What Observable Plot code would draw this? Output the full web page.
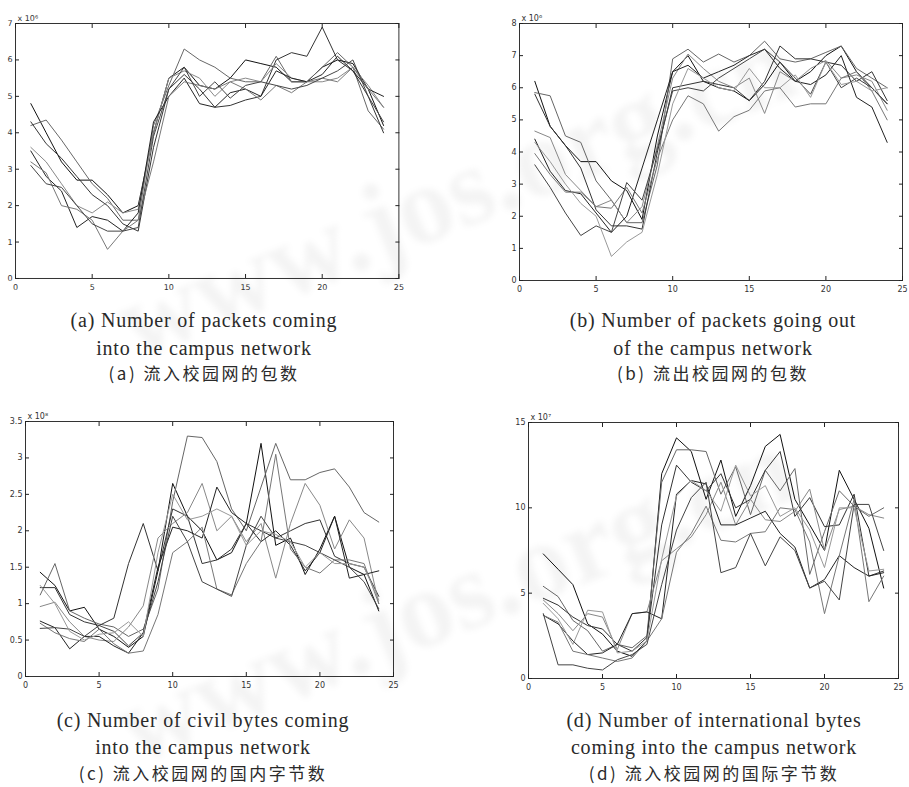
<!DOCTYPE html>
<html><head><meta charset="utf-8">
<script src="https://cdn.jsdelivr.net/npm/d3@7"></script>
<script src="https://cdn.jsdelivr.net/npm/@observablehq/plot@0.6"></script>
<style>
body{margin:0;background:#fff;}
#root{position:relative;width:909px;height:787px;overflow:hidden;background:#fff;}
.panel{position:absolute;}
.cap{position:absolute;font-family:"Liberation Serif","DejaVu Serif",serif;font-size:20px;letter-spacing:0.8px;color:#2a2a2a;white-space:nowrap;transform:translateX(-50%);line-height:1;}
.zh{font-family:"Noto Sans CJK SC",sans-serif;font-size:17px;letter-spacing:2.5px;}
.wm{position:absolute;font-family:"Liberation Serif",serif;font-weight:bold;font-size:110px;line-height:1;color:rgba(0,0,0,0.045);white-space:nowrap;filter:blur(3px);transform-origin:center;pointer-events:none;}
</style>
</head><body>
<div id="root"></div>
<script>
const hours = d3.range(1, 25);
const xTicks = [0, 5, 10, 15, 20, 25];

// (a) packets coming into the campus network, x 10^6
const aSeries = [
  [4.8,4.0,3.2,2.7,2.7,2.3,1.8,2.0,4.0,5.5,5.8,5.3,5.2,5.5,6.0,5.9,5.8,5.4,5.4,5.8,6.0,5.9,5.2,4.2],
  [4.2,4.35,3.8,3.2,2.6,2.2,1.6,1.6,4.2,5.3,6.3,6.0,5.8,5.5,5.4,5.4,6.1,5.4,5.4,5.8,6.2,5.8,4.6,4.1],
  [4.3,3.7,3.3,2.8,2.3,2.0,1.5,1.3,3.6,5.2,5.6,5.2,4.7,4.75,4.9,5.0,6.0,6.2,6.1,6.9,6.0,5.7,5.0,4.0],
  [3.6,3.2,2.6,2.0,1.8,2.1,1.8,1.9,4.0,5.5,5.7,5.5,5.0,5.4,5.5,5.4,5.9,5.5,5.4,5.4,5.5,5.8,5.3,4.7],
  [3.5,2.8,2.4,1.4,1.7,1.6,1.3,1.8,4.3,5.0,5.5,4.8,4.7,5.1,5.2,5.0,5.7,5.5,5.4,5.6,6.1,5.7,5.2,5.0],
  [3.2,2.9,2.0,1.9,1.6,0.8,1.3,1.6,3.2,5.0,5.4,5.3,5.2,5.4,5.2,4.9,5.3,5.1,5.4,5.5,5.4,5.8,5.2,4.7],
  [3.1,2.6,2.5,2.0,1.5,1.3,1.3,1.4,3.9,5.2,5.8,5.0,5.4,4.95,5.3,5.4,5.3,5.2,5.3,5.5,5.7,6.0,5.0,4.3]
];
// (b) packets going out of the campus network, x 10^6
const bSeries = [
  [6.2,4.8,4.2,3.7,3.7,3.1,2.8,1.9,4.5,6.5,7.0,6.2,6.0,5.9,5.6,6.1,6.8,6.2,6.5,7.0,7.3,6.5,6.0,5.5],
  [5.85,5.75,4.5,4.3,3.1,2.5,1.8,1.8,3.6,6.9,7.2,6.8,7.05,6.8,7.0,7.45,6.9,6.8,6.9,7.1,7.3,6.6,6.3,6.0],
  [5.8,4.8,4.2,3.5,2.2,1.7,1.7,1.6,4.0,6.0,6.1,6.2,6.1,6.0,5.6,6.2,7.3,6.9,6.9,6.8,6.7,6.2,6.5,5.6],
  [4.65,4.45,3.3,2.8,2.3,2.5,1.8,2.3,4.2,6.3,7.05,6.6,6.2,6.0,6.3,5.2,6.5,6.2,6.6,6.85,6.3,6.4,6.2,5.3],
  [4.4,3.4,2.8,2.7,2.1,1.5,2.0,3.5,5.0,6.5,6.7,6.3,6.5,6.7,7.0,7.2,6.6,6.2,6.1,6.4,7.0,5.7,5.4,4.3],
  [3.95,3.3,2.75,2.75,2.3,2.25,2.9,2.1,3.8,5.0,5.75,5.5,4.65,5.1,5.3,5.9,6.0,5.4,5.5,5.5,6.3,6.5,5.9,5.0],
  [3.6,2.9,2.1,1.4,1.7,1.5,3.05,2.5,4.1,5.9,6.0,5.9,6.3,6.6,6.9,7.2,6.8,6.3,5.8,6.8,6.0,6.3,6.0,5.5],
  [4.3,3.7,3.0,2.4,2.0,0.75,1.2,1.5,3.3,5.5,6.6,6.3,6.0,5.9,6.6,6.0,6.0,6.4,5.7,6.8,6.1,6.2,5.9,6.0]
];
// (c) civil bytes coming into the campus network, x 10^8
const cSeries = [
  [1.43,1.25,0.9,0.95,0.65,0.55,0.40,0.55,1.45,2.65,2.2,2.0,1.6,1.7,2.1,3.2,1.8,1.9,1.4,1.75,2.2,1.5,1.4,0.9],
  [1.12,1.55,0.9,0.8,0.72,0.68,0.55,0.65,1.2,2.4,3.3,3.28,2.95,2.3,2.0,2.6,3.2,2.7,2.7,2.8,2.85,2.6,2.25,2.12],
  [1.22,1.22,0.85,0.75,0.70,0.80,1.55,2.1,1.45,2.3,2.2,1.55,1.6,1.75,2.1,2.0,1.9,2.0,2.1,2.15,1.65,1.55,1.5,1.1],
  [0.96,1.02,0.75,0.55,0.50,0.48,0.68,0.97,1.9,2.1,2.25,2.65,2.0,2.2,1.85,2.1,1.35,2.1,2.65,2.35,1.75,2.15,1.9,1.0],
  [0.76,0.67,0.38,0.55,0.55,0.42,0.32,0.60,1.5,2.05,2.0,1.9,2.6,2.25,2.1,1.85,2.0,1.8,1.45,1.7,2.2,1.35,1.4,1.45],
  [0.73,0.60,0.52,0.48,0.65,0.45,0.32,0.35,0.85,1.7,1.85,2.05,1.2,1.12,1.55,1.85,3.05,1.75,1.5,1.42,1.6,1.6,1.55,1.0],
  [0.66,0.67,0.65,0.55,0.70,0.62,0.42,0.60,1.3,2.2,1.85,1.3,1.2,1.1,1.8,2.2,1.9,1.85,1.8,1.7,1.6,1.5,1.3,0.93],
  [1.25,1.0,0.62,0.50,0.58,0.60,0.75,0.55,1.7,2.5,2.15,2.2,2.3,2.2,1.8,2.0,1.95,1.85,1.5,1.7,1.55,1.55,1.5,1.05]
];
// (d) international bytes coming into the campus network, x 10^7
const dSeries = [
  [7.3,6.4,5.5,3.2,2.6,1.6,1.3,2.2,12.0,14.1,13.3,10.5,12.8,9.5,11.3,13.6,14.3,10.5,9.0,7.5,12.2,10.5,8.8,5.3],
  [5.4,4.8,3.4,2.8,1.6,2.0,1.8,2.5,11.5,13.4,13.4,13.3,10.8,12.4,9.6,12.2,11.0,12.3,6.1,8.6,11.0,10.1,9.5,10.0],
  [4.7,4.3,3.6,3.1,2.9,2.0,1.6,2.4,9.0,12.5,11.5,11.0,12.0,10.0,10.5,12.2,13.3,9.5,10.6,8.9,9.0,10.8,6.0,6.3],
  [4.6,3.8,2.8,3.8,3.6,1.7,3.8,3.9,6.9,7.6,8.3,9.6,11.5,9.0,10.5,9.3,9.2,9.8,11.1,7.5,9.9,10.1,9.6,9.4],
  [3.7,3.2,2.2,1.4,1.5,2.0,3.8,3.9,3.5,10.8,11.6,11.4,9.0,9.0,9.4,9.8,8.5,7.7,5.3,5.8,7.2,6.5,6.0,6.2],
  [3.7,3.3,1.6,1.4,1.2,1.0,1.2,2.2,3.5,7.4,8.5,10.1,8.1,8.0,8.5,8.6,10.0,9.9,8.0,3.8,7.2,10.5,4.5,6.0],
  [3.8,0.8,0.8,0.6,0.5,1.1,1.4,2.0,5.5,8.7,10.6,11.5,6.2,6.5,8.5,6.6,8.3,7.5,5.3,5.7,4.6,10.2,10.2,7.5],
  [4.4,3.5,2.0,4.0,3.9,1.5,1.6,2.2,7.0,10.7,11.6,11.0,9.8,12.5,10.7,11.3,9.5,10.0,8.7,6.5,10.0,10.0,6.3,6.4]
];

const lineColors = ["#111","#666","#333","#888","#222","#777","#444","#999"];

const aYTicks = [0,1,2,3,4,5,6,7];
const bYTicks = [0,1,2,3,4,5,6,7,8];
const cYTicks = [0,0.5,1,1.5,2,2.5,3,3.5];
const dYTicks = [0,5,10,15];

const captionsA = ["(a) Number of packets coming", "into the campus network", "(a) 流入校园网的包数"];
const captionsB = ["(b) Number of packets going out", "of the campus network", "(b) 流出校园网的包数"];
const captionsC = ["(c) Number of civil bytes coming", "into the campus network", "(c) 流入校园网的国内字节数"];
const captionsD = ["(d) Number of international bytes", "coming into the campus network", "(d) 流入校园网的国际字节数"];
const watermark = "www.jos.org.cn";

const panels = [
  {series: aSeries, yTicks: aYTicks, ymax: 7, exp: "x 10⁶", box: [14.6, 398, 23, 278], caps: captionsA, capX: 204, capY: [310, 338, 364]},
  {series: bSeries, yTicks: bYTicks, ymax: 8, exp: "x 10⁶", box: [519, 902, 23, 280], caps: captionsB, capX: 713, capY: [310, 338, 364]},
  {series: cSeries, yTicks: cYTicks, ymax: 3.5, exp: "x 10⁸", box: [25, 393, 421, 676], caps: captionsC, capX: 203, capY: [710, 737, 764]},
  {series: dSeries, yTicks: dYTicks, ymax: 15, exp: "x 10⁷", box: [528, 898, 422, 678], caps: captionsD, capX: 714, capY: [710, 737, 764]}
];

const root = document.getElementById("root");

// faint scanned watermark
[{x: 455, y: 192, r: -22}, {x: 455, y: 596, r: -22}].forEach(w => {
  const div = document.createElement("div");
  div.className = "wm";
  div.textContent = watermark;
  root.appendChild(div);
  const bw = div.offsetWidth, bh = div.offsetHeight;
  div.style.left = (w.x - bw / 2) + "px";
  div.style.top = (w.y - bh / 2) + "px";
  div.style.transform = `rotate(${w.r}deg)`;
});

const ML = 32, MR = 12, MT = 22, MB = 22;
const fmt = d3.format("~g");

panels.forEach((p) => {
  const [L, R, T, B] = p.box;
  const names = p.series.map((_, i) => "s" + i);
  const data = p.series.flatMap((vals, i) => vals.map((v, j) => ({s: names[i], x: hours[j], y: v})));
  const chart = Plot.plot({
    width: (R - L) + ML + MR,
    height: (B - T) + MT + MB,
    marginLeft: ML, marginRight: MR, marginTop: MT, marginBottom: MB,
    style: {background: "transparent", fontFamily: "DejaVu Sans, sans-serif"},
    x: {domain: [0, 25], label: null},
    y: {domain: [0, p.ymax], label: null},
    color: {domain: names, range: lineColors.slice(0, names.length)},
    marks: [
      Plot.line(data, {x: "x", y: "y", z: "s", stroke: "s", strokeWidth: 1, strokeLinejoin: "miter"}),
      Plot.frame({stroke: "#333", strokeWidth: 1}),
      Plot.axisX({anchor: "bottom", ticks: xTicks, tickFormat: fmt, tickSize: -4, tickPadding: 10, fontSize: 8, fill: "#333", stroke: "#222", label: null}),
      Plot.axisX({anchor: "top", ticks: xTicks, tickSize: -4, fill: "none", stroke: "#222", label: null}),
      Plot.axisY({anchor: "left", ticks: p.yTicks, tickFormat: fmt, tickSize: -4, tickPadding: 7, fontSize: 8, fill: "#333", stroke: "#222", label: null}),
      Plot.axisY({anchor: "right", ticks: p.yTicks, tickSize: -4, fill: "none", stroke: "#222", label: null}),
      Plot.text([p.exp], {text: d => d, frameAnchor: "top-left", dx: 2, dy: -8, fontSize: 8, fill: "#333", textAnchor: "start"})
    ]
  });
  chart.classList.add("panel");
  chart.style.left = (L - ML) + "px";
  chart.style.top = (T - MT) + "px";
  root.appendChild(chart);

  p.caps.forEach((c, ci) => {
    const div = document.createElement("div");
    div.className = "cap" + (ci === 2 ? " zh" : "");
    div.textContent = c;
    div.style.left = p.capX + "px";
    div.style.top = p.capY[ci] + "px";
    root.appendChild(div);
  });
});
</script>
</body></html>
